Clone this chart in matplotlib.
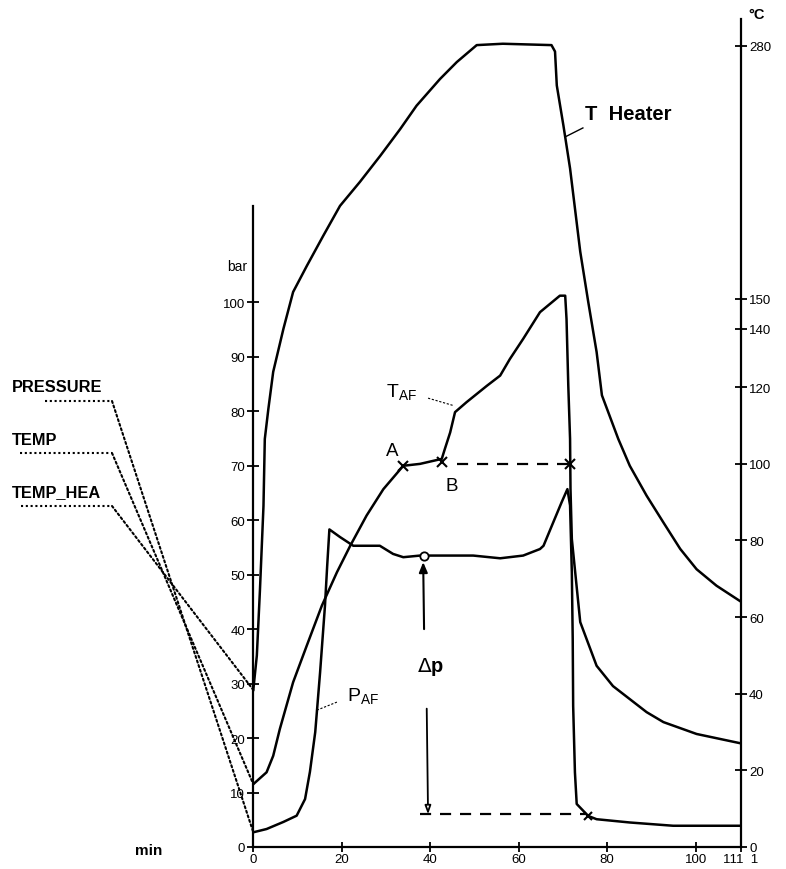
import numpy as np
import matplotlib
matplotlib.use('Agg')
import matplotlib.pyplot as plt
from matplotlib.lines import Line2D

plt.rcParams['font.family'] = ['Liberation Sans', 'DejaVu Sans']

# heater temperature (°C) over time (min)
t_heater = [0, 0.8, 1.5, 2.3, 2.6, 3.4, 4.5, 6.8, 9.0, 12.1, 15.8, 19.6, 24.1, 28.7, 33.2, 36.9,
            42.2, 46.0, 50.5, 56.4, 67.4, 68.2, 68.6, 70.1, 71.6, 73.9, 75.7, 77.6, 78.8, 82.5,
            85.1, 88.9, 92.7, 96.5, 100.2, 104.7, 110.0]
T_heater = [41, 50, 67, 89, 106.5, 114.3, 125.3, 140, 153.6, 167, 182.4, 197.8, 210.1, 223.5, 237.2,
            249.2, 262.9, 271.6, 280.3, 281, 280.3, 277, 259.6, 239, 217, 174.3, 149.1, 132.1, 117.9,
            106.5, 99.5, 91.7, 84.7, 77.8, 72.5, 68.2, 64.2]

# T_AF (°C)
t_af = [0, 3.0, 4.5, 6.0, 9.0, 12.1, 15.5, 18.9, 21.9, 25.6, 29.4, 33.9, 37.7, 42.6, 43.3, 44.5,
        45.6, 48.2, 52.8, 55.8, 58.0, 61.0, 64.8, 69.3, 70.5, 70.8, 71.2, 71.6, 71.7, 72.0, 73.9,
        77.6, 81.3, 88.9, 92.7, 100.2, 110.0]
T_af = [16.4, 19.5, 23.8, 30.8, 43, 52.6, 63, 71.7, 78.6, 86.5, 93.4, 99.5, 100, 101.3, 103.9, 108.2,
        113.5, 116.1, 120.5, 124, 129.7, 136.6, 145.6, 151.7, 151.7, 143.3, 120.5, 106.5, 93.4, 80.4,
        58.7, 47.3, 42, 35.2, 32.6, 29.5, 27.1]

# P_AF (bar)
t_p = [0, 3.0, 6.8, 9.8, 11.7, 12.8, 14.0, 15.1, 16.2, 16.7, 17.2, 19.6, 22.6, 25.6, 28.6, 31.6,
       33.9, 37.7, 42.2, 49.7, 55.8, 61.0, 64.8, 65.6, 67.8, 69.7, 71.0, 71.6, 72.0, 72.2, 72.3,
       72.7, 73.1, 75.7, 77.6, 85.1, 94.9, 110.0]
p_af = [2.7, 3.3, 4.6, 5.75, 8.8, 13.8, 21.1, 32.1, 44.3, 51.6, 58.3, 56.9, 55.3, 55.3, 55.3, 53.8,
        53.2, 53.5, 53.5, 53.5, 53.0, 53.5, 54.7, 55.3, 59.6, 63.3, 65.7, 62.7, 50.4, 38.2, 25.9,
        13.7, 7.9, 5.7, 5.1, 4.5, 3.9, 3.9]

# points A, B and the 100 °C reference
t_A, T_A = 33.9, 99.5
t_B, T_B = 42.6, 100.5
t_C, T_ref = 71.6, 100

# delta p construction
dp_time = 38.6
p_plateau = 53.5
p_after = 6.0
t_release = 75.7

# axis ticks
bar_ticks = [0, 10, 20, 30, 40, 50, 60, 70, 80, 90, 100]
degc_ticks = [0, 20, 40, 60, 80, 100, 120, 140, 150, 280]
min_ticks = [0, 20, 40, 60, 80, 100]

# the °C axis of the recorder is not linear: piecewise mapping onto the bar axis
T_knots = [-50, 0, 120, 140, 150, 280, 350]
B_knots = [-35.2, 0, 84.4, 95.1, 100.6, 147.1, 172.1]


def degc_fwd(t):
    return np.interp(t, T_knots, B_knots)


def degc_inv(b):
    return np.interp(b, B_knots, T_knots)


fig = plt.figure(figsize=(7.86, 8.70), dpi=100)
ax = fig.add_axes([253.3 / 786, 22 / 870, 487.4 / 786, 828 / 870])
ax.set_xlim(0, 110.17)
ax.set_ylim(0, 152.0)

axT = ax.twinx()
axT.set_yscale('function', functions=(degc_fwd, degc_inv))
axT.set_ylim(degc_inv(0), degc_inv(152.0))

lw = 1.8
axT.plot(t_heater, T_heater, color='black', lw=lw)
axT.plot(t_af, T_af, color='black', lw=lw)
ax.plot(t_p, p_af, color='black', lw=lw)

# A - B reference line at 100 °C
axT.plot([t_B + 3.5, t_C], [T_ref, T_ref], color='black', lw=1.6, ls=(0, (5, 4)))
axT.plot([t_A, t_B, t_C], [T_A, T_B, T_ref], ls='none', marker='x', ms=7, mew=1.5, color='black')
axT.text(t_A - 2.6, T_A + 4, 'A', fontsize=13.5, ha='center', va='center')
axT.text(t_B + 2.3, T_B - 6.2, 'B', fontsize=13.5, ha='center', va='center')

# delta p
ax.plot([dp_time], [p_plateau], marker='o', ms=6, mfc='white', mec='black', mew=1.3)
ax.annotate('', xy=(dp_time - 0.2, p_plateau - 1.2), xytext=(dp_time, 40),
            arrowprops=dict(arrowstyle='-|>,head_length=0.6,head_width=0.25', color='black', lw=1.5,
                            shrinkA=0, shrinkB=0))
ax.annotate('', xy=(dp_time + 0.9, p_after), xytext=(dp_time + 0.6, 25.4),
            arrowprops=dict(arrowstyle='-|>,head_length=0.5,head_width=0.18', color='black', lw=1.3,
                            shrinkA=0, shrinkB=0, fc='white'))
ax.plot([dp_time - 0.9, t_release - 0.8], [p_after, p_after], color='black', lw=1.6, ls=(0, (5, 4)))
ax.plot([t_release], [p_after - 0.4], marker='x', ms=6, mew=1.5, color='black')
ax.text(dp_time + 1.4, 33.2, r'$\Delta$p', fontsize=14.5, fontweight='bold', ha='center', va='center')

# curve labels
ax.text(75.0, 134.6, 'T  Heater', fontsize=14.5, fontweight='bold', ha='left', va='center')
ax.plot([74.5, 70.6], [132.0, 130.4], color='black', lw=1.0)
ax.text(30.0, 82.6, r'T$_{\mathregular{AF}}$', fontsize=14, ha='left', va='baseline')
ax.plot([39.5, 45.4], [82.4, 81.0], color='black', lw=0.8, ls=(0, (2, 1.5)))
ax.text(21.2, 26.8, r'P$_{\mathregular{AF}}$', fontsize=14, ha='left', va='baseline')
ax.plot([18.9, 14.0], [26.6, 25.0], color='black', lw=0.8, ls=(0, (2, 1.5)))

# spines and ticks
ax.spines['top'].set_visible(False)
axT.spines['top'].set_visible(False)
ax.spines['right'].set_visible(False)
axT.spines['left'].set_visible(False)
axT.spines['bottom'].set_visible(False)
ax.spines['left'].set_bounds(0, 117.7)
for sp in [ax.spines['left'], ax.spines['bottom'], axT.spines['right']]:
    sp.set_linewidth(1.6)

ax.set_yticks(bar_ticks)
ax.set_xticks(min_ticks + [110.17])
ax.set_xticklabels([str(v) for v in min_ticks] + ['111  1'])
axT.set_yticks(degc_ticks)
axT.set_yticklabels([str(v) for v in degc_ticks])
axT.yaxis.set_minor_locator(plt.NullLocator())
ax.tick_params(axis='y', direction='inout', length=8, width=1.3, labelsize=9.5, pad=2)
ax.tick_params(axis='x', direction='inout', length=7, width=1.3, labelsize=9.5, pad=1)
axT.tick_params(axis='y', direction='inout', length=8, width=1.3, labelsize=9.5, pad=2)

ax.text(-1.3, 106.7, 'bar', fontsize=10, ha='right', va='center')
fig.text(149 / 786, 1 - 851 / 870, 'min', fontsize=11, fontweight='bold', ha='center', va='center')
fig.text(748 / 786, 1 - 15 / 870, '°C', fontsize=10.5, fontweight='bold', ha='left', va='center')

# recorder channel legend with dotted leaders to the start of each curve
legend_names = ['PRESSURE', 'TEMP', 'TEMP_HEA']
legend_y = [388, 441, 493]
line_y = [402, 454, 507]
line_x0 = [45, 20, 21]
targets = [(ax, p_af[0]), (axT, T_af[0]), (axT, T_heater[0])]
for name, ly, hy, hx, (tax, v0) in zip(legend_names, legend_y, line_y, line_x0, targets):
    fig.text(12 / 786, 1 - ly / 870, name, fontsize=11.8, fontweight='bold', ha='left', va='center')
    fig.add_artist(Line2D([hx / 786, 112 / 786], [1 - hy / 870, 1 - hy / 870],
                          transform=fig.transFigure, color='black', lw=1.5, ls=(0, (1, 1.3))))
    tax.annotate('', xy=(0, v0), xycoords='data', xytext=(112, 870 - hy), textcoords='figure pixels',
                 arrowprops=dict(arrowstyle='-', color='black', lw=1.5, ls=(0, (1, 1.3)),
                                 shrinkA=0, shrinkB=0), annotation_clip=False)

fig.savefig('out.png', dpi=100)
